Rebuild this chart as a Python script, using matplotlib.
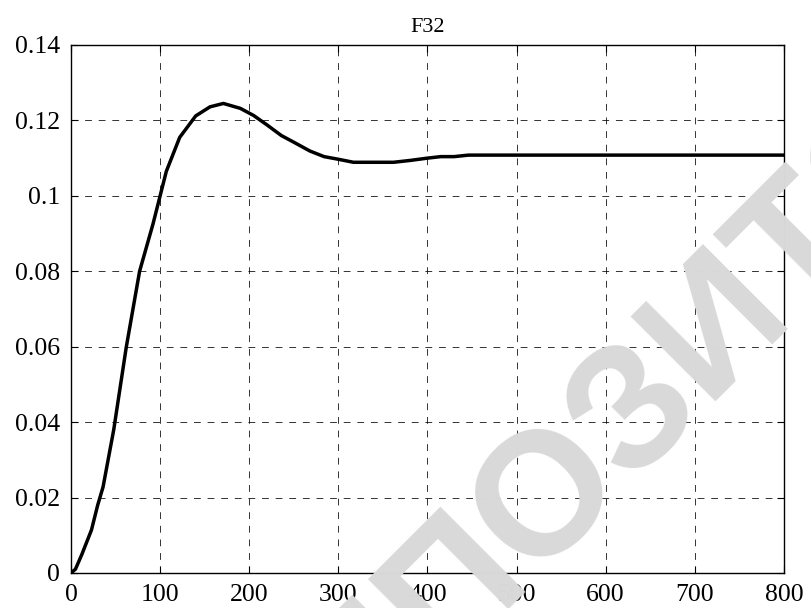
import matplotlib
matplotlib.use('Agg')
import matplotlib.pyplot as plt

# step response F32
t = [0, 5, 12, 23, 30, 36, 48, 62, 77, 92, 107, 122, 140, 156, 171, 190, 205,
     220, 236, 251, 268, 284, 300, 317, 340, 362, 381, 400, 415, 430, 446, 800]
y = [0, 0.001, 0.0048, 0.0114, 0.018, 0.0228, 0.038, 0.0598, 0.08, 0.0925,
     0.1065, 0.1155, 0.1212, 0.1236, 0.1245, 0.1232, 0.1213, 0.1188, 0.116,
     0.1141, 0.1119, 0.1104, 0.1097, 0.1089, 0.1089, 0.1089, 0.1094, 0.11,
     0.1104, 0.1104, 0.1108, 0.1108]

xticks = [0, 100, 200, 300, 400, 500, 600, 700, 800]
yticks = [0, 0.02, 0.04, 0.06, 0.08, 0.1, 0.12, 0.14]
ytick_labels = ['0', '0.02', '0.04', '0.06', '0.08', '0.1', '0.12', '0.14']

plt.rcParams['font.family'] = ['Liberation Serif', 'DejaVu Serif']

fig = plt.figure(figsize=(8.12, 6.08), dpi=100)
ax = fig.add_axes([0.0874, 0.0576, 0.878, 0.8684])
ax.patch.set_alpha(0)

# watermark behind the plot
fig.text(0.884, 0.468, 'РЕПОЗИТОРИЙ', rotation=45, rotation_mode='anchor',
         ha='center', va='center', fontsize=126, fontweight='heavy',
         family='Liberation Sans', color='#d9d9d9', zorder=0)

ax.plot(t, y, color='black', linewidth=2.5, zorder=3)

ax.set_xlim(0, 800)
ax.set_ylim(0, 0.14)
ax.set_xticks(xticks)
ax.set_yticks(yticks)
ax.set_yticklabels(ytick_labels)
ax.tick_params(direction='in', length=5, width=0.8, labelsize=18.5, pad=8,
               top=True, right=True)
ax.grid(True, color='black', linestyle=(0, (7, 7)), linewidth=0.7, alpha=0.8)
for s in ax.spines.values():
    s.set_linewidth(1.0)

ax.set_title('F32', fontsize=16, pad=9)

fig.savefig('out.png', dpi=100)
